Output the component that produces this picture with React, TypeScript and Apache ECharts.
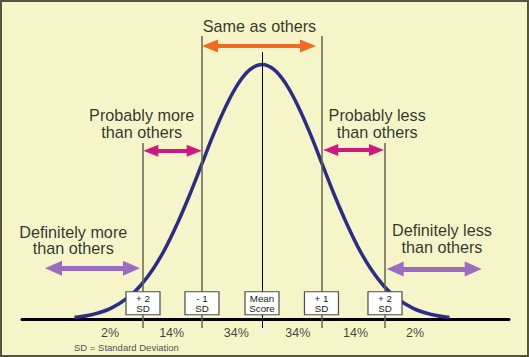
import React, { useEffect, useRef } from "react";
import * as echarts from "echarts";

const FONT = "'Liberation Sans', Arial, Helvetica, sans-serif";

// Bell curve (x in SD units, height as density)
const curveX = [-3.1, -2.8, -2.5, -2.2, -2.0, -1.8, -1.6, -1.4, -1.2, -1.0, -0.8, -0.6, -0.4, -0.2, 0, 0.2, 0.4, 0.6, 0.8, 1.0, 1.2, 1.4, 1.6, 1.8, 2.0, 2.2, 2.5, 2.8, 3.1];
const curveY = [0.0033, 0.0079, 0.0175, 0.0355, 0.054, 0.079, 0.111, 0.15, 0.194, 0.242, 0.29, 0.333, 0.368, 0.391, 0.399, 0.391, 0.368, 0.333, 0.29, 0.242, 0.194, 0.15, 0.111, 0.079, 0.054, 0.0355, 0.0175, 0.0079, 0.0033];

// SD marker positions and the box labels
const sdX = [-1.967, -0.992, 0, 0.983, 2.033];
const sdTop = [0.2762, 0.4437, 0.4186, 0.4437, 0.2762];
const sdLabels = ["+ 2\nSD", "- 1\nSD", "Mean\nScore", "+ 1\nSD", "+ 2\nSD"];
const lineBottom = -0.0133;
const boxY = 0.0254;

// Percent labels
const pctLabels = ["2%", "14%", "34%", "34%", "14%", "2%"];
const pctX = [-2.512, -1.493, -0.425, 0.592, 1.546, 2.529];
const pctY = -0.0211;

// Annotation texts
const noteTexts = ["Same as others", "Probably more\nthan others", "Probably less\nthan others", "Definitely more\nthan others", "Definitely less\nthan others"];
const noteX = [-0.041, -1.988, 1.904, -3.119, 2.975];
const noteY = [0.4593, 0.3066, 0.3066, 0.1244, 0.1268];
const noteSize = [16.2, 16.2, 16.2, 16.2, 16.2];
const noteLineH = [18, 16.5, 16.5, 16.5, 16.5];

// Arrows: [fromX, toX, y]
const orangeArrows = [[-0.86, 0.76, 0.428]];
const magentaArrows = [[-1.838, -1.121, 0.2642], [1.137, 1.893, 0.2653]];
const purpleArrows = [[-3.446, -2.157, 0.0801], [2.202, 3.491, 0.079]];

const footnote = "SD = Standard Deviation";
const footX = -3.107;
const footY = -0.0446;

function arrowSeries(arrows: number[][], color: string, width: number, head: number[]) {
  return {
    type: "line",
    data: [],
    silent: true,
    z: 4,
    markLine: {
      silent: true,
      animation: false,
      symbol: ["triangle", "triangle"],
      label: { show: false },
      emphasis: { disabled: true },
      lineStyle: { color, width, type: "solid" },
      data: arrows.map((a) => [
        { coord: [a[0], a[2]], symbol: "triangle", symbolSize: head },
        { coord: [a[1], a[2]], symbol: "triangle", symbolSize: head },
      ]),
    },
  };
}

export default function App() {
  const ref = useRef<HTMLDivElement>(null);
  useEffect(() => {
    if (!ref.current) return;
    const chart = echarts.init(ref.current, null, { renderer: "svg" });
    const option: any = {
      animation: false,
      backgroundColor: "#f5f5c9",
      grid: { left: 22, right: 20, top: 0, bottom: 0, containLabel: false },
      xAxis: {
        type: "value",
        min: -3.967,
        max: 4.083,
        axisLine: { show: true, onZero: true, lineStyle: { color: "#000", width: 3 } },
        axisTick: { show: false },
        axisLabel: { show: false },
        splitLine: { show: false },
      },
      yAxis: {
        type: "value",
        min: -0.0587,
        max: 0.5,
        show: false,
        splitLine: { show: false },
      },
      graphic: [
        {
          type: "rect",
          z: 100,
          silent: true,
          shape: { x: 1, y: 1, width: 527, height: 355 },
          style: { fill: "none", stroke: "#55553b", lineWidth: 2 },
        },
      ],
      series: [
        {
          type: "line",
          data: [],
          silent: true,
          z: 1,
          markLine: {
            silent: true,
            animation: false,
            symbol: ["none", "none"],
            label: { show: false },
            emphasis: { disabled: true },
            lineStyle: { color: "#66664f", width: 1.5, type: "solid" },
            data: sdX
              .map((x, i) => (i === 2 ? null : [{ coord: [x, sdTop[i]] }, { coord: [x, lineBottom] }]))
              .filter((d) => d),
          },
        },
        {
          type: "line",
          data: [],
          silent: true,
          z: 1,
          markLine: {
            silent: true,
            animation: false,
            symbol: ["none", "none"],
            label: { show: false },
            emphasis: { disabled: true },
            lineStyle: { color: "#000", width: 1, type: "solid" },
            data: [[{ coord: [sdX[2], sdTop[2]] }, { coord: [sdX[2], lineBottom] }]],
          },
        },
        {
          type: "line",
          data: curveX.map((x, i) => [x, curveY[i]]),
          smooth: 0.4,
          symbol: "none",
          silent: true,
          z: 3,
          lineStyle: { color: "#2d2b87", width: 3.5 },
        },
        arrowSeries(orangeArrows, "#f26a21", 4, [13, 16]),
        arrowSeries(magentaArrows, "#cc1a7e", 4, [12, 15]),
        arrowSeries(purpleArrows, "#9a6cc2", 5, [15, 17]),
        {
          type: "scatter",
          silent: true,
          z: 6,
          symbol: "rect",
          symbolSize: [34, 23],
          itemStyle: { color: "#ffffff", borderColor: "#4d4d4d", borderWidth: 1, opacity: 1 },
          label: {
            show: true,
            position: "inside",
            formatter: (p: any) => sdLabels[p.dataIndex],
            fontSize: 9.8,
            lineHeight: 10,
            color: "#222",
            fontFamily: FONT,
          },
          data: sdX.map((x) => [x, boxY]),
        },
        {
          type: "scatter",
          silent: true,
          z: 6,
          symbolSize: 0,
          itemStyle: { color: "rgba(0,0,0,0)" },
          label: {
            show: true,
            position: "inside",
            formatter: (p: any) => pctLabels[p.dataIndex],
            fontSize: 12.5,
            color: "#111",
            fontFamily: FONT,
          },
          data: pctX.map((x) => [x, pctY]),
        },
        {
          type: "scatter",
          silent: true,
          z: 6,
          symbolSize: 0,
          itemStyle: { color: "rgba(0,0,0,0)" },
          label: {
            show: true,
            position: "inside",
            formatter: (p: any) => noteTexts[p.dataIndex],
            color: "#000",
            fontFamily: FONT,
            align: "center",
            verticalAlign: "middle",
          },
          data: noteX.map((x, i) => ({
            value: [x, noteY[i]],
            label: { fontSize: noteSize[i], lineHeight: noteLineH[i] },
          })),
        },
        {
          type: "scatter",
          silent: true,
          z: 6,
          symbolSize: 0,
          itemStyle: { color: "rgba(0,0,0,0)" },
          label: {
            show: true,
            position: "inside",
            align: "left",
            formatter: () => footnote,
            fontSize: 9.5,
            color: "#222",
            fontFamily: FONT,
          },
          data: [[footX, footY]],
        },
      ],
    };
    chart.setOption(option);
    return () => chart.dispose();
  }, []);
  return (
    <div
      ref={ref}
      style={{ position: "absolute", left: 0, top: 0, width: 529, height: 357 }}
    />
  );
}
